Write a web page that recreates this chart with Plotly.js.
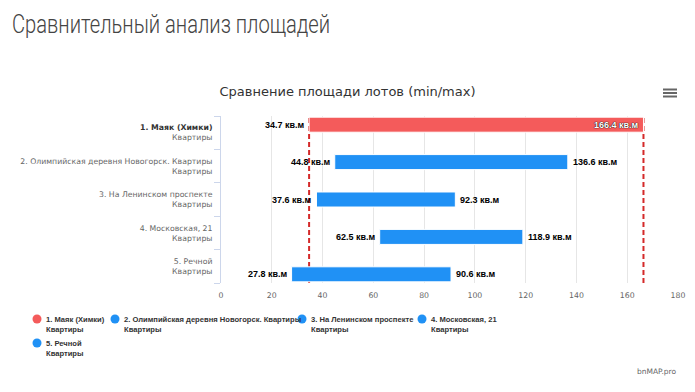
<!DOCTYPE html>
<html>
<head>
<meta charset="utf-8">
<script src="https://cdn.plot.ly/plotly-3.0.1.min.js"></script>
<style>
  html, body { margin: 0; padding: 0; background: #fff; }
  #wrap { position: relative; width: 695px; height: 392px; }
  #chart { width: 695px; height: 392px; }
  #pageTitle {
    position: absolute; left: 12px; top: 11px; margin: 0;
    font-family: Roboto, 'Liberation Sans', sans-serif; font-weight: 300;
    font-size: 26px; line-height: 26px; color: #444; white-space: nowrap;
    transform-origin: 0 0;
  }
</style>
</head>
<body>
<div id="wrap">
  <div id="chart"></div>
  <div id="pageTitle"></div>
</div>
<script>
// ---- data ----
const pageTitle = 'Сравнительный анализ площадей';
const chartTitle = 'Сравнение площади лотов (min/max)';
const categories = [
  '1. Маяк (Химки)',
  '2. Олимпийская деревня Новогорск. Квартиры',
  '3. На Ленинском проспекте',
  '4. Московская, 21',
  '5. Речной'
];
const subLabel = 'Квартиры';
const minArea = [34.7, 44.8, 37.6, 62.5, 27.8];
const maxArea = [166.4, 136.6, 92.3, 118.9, 90.6];
const unit = 'кв.м';
const xTickValues = [0, 20, 40, 60, 80, 100, 120, 140, 160, 180];
const credit = 'bnMAP.pro';

// ---- style / layout constants ----
const W = 695, H = 392;
const M = { l: 221, r: 17, t: 116, b: 109 };
const plotW = W - M.l - M.r, plotH = H - M.t - M.b;
const px2x = px => (px - M.l) / plotW;
const py2y = py => (H - M.b - py) / plotH;
const RED = '#f45b5b', BLUE = '#2091f5';
const colors = categories.map((c, i) => i === 0 ? RED : BLUE);
const FONT = 'DejaVu Sans, Verdana, sans-serif';
const BFONT = 'Liberation Sans, Arial, sans-serif';
const barWidth = 0.45;
const slotStep = 0.12;
const center = i => (i - (categories.length - 1) / 2) * slotStep;
const xMax = xTickValues[xTickValues.length - 1];

const catKeys = categories.map(c => c);
const tickText = categories.map((c, i) => i === 0
  ? '<span style="color:#333"><b>' + c + '</b></span><br>' + subLabel
  : c + '<br>' + subLabel);

const bars = {
  type: 'bar',
  orientation: 'h',
  y: catKeys,
  x: maxArea.map((v, i) => +(v - minArea[i]).toFixed(1)),
  base: minArea,
  width: categories.map(() => barWidth),
  offset: categories.map((c, i) => center(i) - barWidth / 2),
  marker: { color: colors, line: { color: '#ffffff', width: 1 } },
  hoverinfo: 'skip',
  showlegend: false
};

const annotations = [];
const labelFont = { family: BFONT, size: 9, color: '#000', weight: 'bold' };
categories.forEach((c, i) => {
  annotations.push({
    xref: 'x', yref: 'y', x: minArea[i], y: i + center(i),
    text: minArea[i].toFixed(1) + ' ' + unit, showarrow: false,
    xanchor: 'right', yanchor: 'middle', xshift: -2, font: labelFont
  });
  const inside = (xMax - maxArea[i]) * plotW / xMax < 45;
  annotations.push({
    xref: 'x', yref: 'y', x: maxArea[i], y: i + center(i),
    text: maxArea[i].toFixed(1) + ' ' + unit, showarrow: false,
    xanchor: inside ? 'right' : 'left', yanchor: 'middle', xshift: inside ? -2 : 3,
    font: inside ? Object.assign({}, labelFont, { color: '#fff', shadow: '0 0 1px #000, 0 0 1px #000' }) : labelFont
  });
});

// legend (custom, circle markers)
const legendPos = [
  { mx: 37, tx: 45, y: 319 },
  { mx: 115, tx: 123, y: 319 },
  { mx: 302, tx: 310, y: 319 },
  { mx: 422, tx: 430, y: 319 },
  { mx: 37, tx: 45, y: 343 }
];
const shapes = [];
categories.forEach((c, i) => {
  const p = legendPos[i];
  shapes.push({
    type: 'circle', xref: 'paper', yref: 'paper',
    xsizemode: 'pixel', ysizemode: 'pixel',
    xanchor: px2x(p.mx), yanchor: py2y(p.y),
    x0: -4.5, x1: 4.5, y0: -4.5, y1: 4.5,
    fillcolor: colors[i], line: { width: 0 }
  });
  annotations.push({
    xref: 'paper', yref: 'paper', x: px2x(p.tx - 1), y: py2y(p.y - 6),
    xanchor: 'left', yanchor: 'top', align: 'left', showarrow: false,
    text: c + '<br>' + subLabel,
    font: { family: BFONT, size: 7.6, color: '#333', weight: 'bold' }
  });
});

// reference lines at item 1 min / max
[minArea[0], maxArea[0]].forEach(v => shapes.push({
  type: 'line', xref: 'x', yref: 'paper', x0: v, x1: v, y0: 0, y1: py2y(118),
  line: { color: '#d42a2a', width: 2, dash: '5px,3px' }, layer: 'below'
}));

// menu icon
[89.5, 93, 96.5].forEach(py => shapes.push({
  type: 'line', xref: 'paper', yref: 'paper',
  x0: px2x(663), x1: px2x(677), y0: py2y(py), y1: py2y(py),
  line: { color: '#666', width: 2 }
}));

annotations.push({
  xref: 'paper', yref: 'paper', x: px2x(679), y: py2y(371),
  xanchor: 'right', yanchor: 'middle', showarrow: false, text: credit,
  font: { family: FONT, size: 7.5, color: '#666' }
});

const layout = {
  width: W, height: H,
  margin: M,
  paper_bgcolor: '#fff', plot_bgcolor: '#fff',
  font: { family: FONT, size: 7.75, color: '#666' },
  title: {
    text: chartTitle, xref: 'container', yref: 'container',
    x: 0.5, xanchor: 'center', y: 1 - 91 / H, yanchor: 'middle',
    font: { family: FONT, size: 13, color: '#333' }
  },
  xaxis: {
    range: [0, xMax], tickmode: 'array', tickvals: xTickValues,
    showgrid: true, gridcolor: '#e6e6e6', gridwidth: 1,
    zeroline: false, showline: false, ticks: '',
    tickfont: { family: FONT, size: 7.75, color: '#666' },
    ticklabelstandoff: 6,
    fixedrange: true
  },
  yaxis: {
    type: 'category', autorange: 'reversed',
    tickmode: 'array', tickvals: catKeys, ticktext: tickText,
    tickson: 'boundaries', ticks: 'outside', ticklen: 6, tickcolor: '#ccd6eb',
    showline: true, linecolor: '#ccd6eb', linewidth: 1,
    showgrid: false, zeroline: false,
    tickfont: { family: FONT, size: 7.75, color: '#666' },
    ticklabelstandoff: 6,
    fixedrange: true
  },
  shapes: shapes,
  annotations: annotations,
  showlegend: false
};

Plotly.newPlot('chart', [bars], layout, { displayModeBar: false, staticPlot: true });

// page heading (condensed to the reference width)
const pt = document.getElementById('pageTitle');
pt.textContent = pageTitle;
const targetWidth = 318;
pt.style.transform = 'scaleX(' + (targetWidth / pt.getBoundingClientRect().width).toFixed(3) + ')';
</script>
</body>
</html>
